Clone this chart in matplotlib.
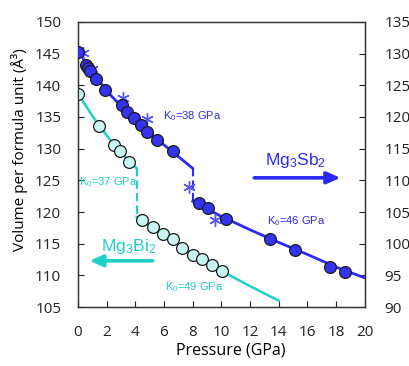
import matplotlib
matplotlib.use("Agg")
import matplotlib.pyplot as plt

# Mg3Sb2 (right axis, blue)
sb_P = [0.0, 0.56, 0.67, 0.84, 1.25, 1.9, 3.09, 3.39, 3.9, 4.41, 4.81, 5.5, 6.64,
        8.46, 9.08, 10.33, 13.4, 15.14, 17.56, 18.6]
sb_V = [130.3, 128.2, 127.8, 127.3, 126.05, 124.2, 121.85, 120.8, 119.8, 118.8, 117.6, 116.4, 114.7,
        106.5, 105.7, 103.9, 100.8, 99.0, 96.4, 95.6]
sb_star_P = [0.33, 1.0, 3.16, 4.85, 7.73, 9.55]
sb_star_V = [130.05, 127.5, 123.05, 119.7, 109.0, 103.7]
sb_fit1_P = [0, 2, 4, 6, 8]
sb_fit1_V = [130.4, 124.1, 119.4, 115.6, 111.9]
sb_jump_P = [8, 8]
sb_jump_V = [111.9, 106.6]
sb_fit2_P = [8, 10, 12, 14, 16, 18, 20]
sb_fit2_V = [106.7, 104.3, 102.2, 100.2, 98.3, 96.3, 94.6]

# Mg3Bi2 (left axis, cyan)
bi_P = [0.0, 1.49, 2.53, 2.95, 3.55, 4.46, 5.2, 5.9, 6.6, 7.27, 7.99, 8.65, 9.33, 10.03]
bi_V = [138.7, 133.6, 130.6, 129.7, 127.95, 118.7, 117.7, 116.6, 115.7, 114.3, 113.2, 112.6, 111.7, 110.7]
bi_fit1_P = [0, 1, 2, 3, 4.1]
bi_fit1_V = [138.7, 135.2, 132.1, 129.4, 126.9]
bi_jump_P = [4.1, 4.1]
bi_jump_V = [126.9, 119.2]
bi_fit2_P = [4.1, 6, 8, 10, 12, 14]
bi_fit2_V = [119.2, 116.4, 113.3, 110.7, 108.3, 106.0]

xticks = list(range(0, 21, 2))
lyticks = list(range(105, 151, 5))
ryticks = list(range(90, 136, 5))

BLUE = "#2b2bf5"
BLUE_M = "#3333f0"
STAR = "#5555ff"
CYAN = "#1fd0c8"
CYAN_M = "#c9f7f4"

tickfont = "Open Sans"
annfont = "Liberation Sans"
plt.rcParams["mathtext.fontset"] = "custom"
plt.rcParams["mathtext.rm"] = annfont
plt.rcParams["mathtext.it"] = annfont

fig = plt.figure(figsize=(4.1, 3.66), dpi=100)
ax = fig.add_axes([0.19, 0.161, 0.70, 0.779])
ax2 = ax.twinx()

# cyan Mg3Bi2 on left axis
ax.plot(bi_fit1_P, bi_fit1_V, color=CYAN, lw=1.8, zorder=2)
ax.plot(bi_jump_P, bi_jump_V, color=CYAN, lw=1.5, ls=(0, (4, 2)), zorder=2)
ax.plot(bi_fit2_P, bi_fit2_V, color=CYAN, lw=1.8, zorder=2)
ax.plot(bi_P, bi_V, ls="none", marker="o", ms=8.5, mfc=CYAN_M, mec="#1a1a1a", mew=0.9, zorder=3)

# blue Mg3Sb2 on right axis
ax2.plot(sb_fit1_P, sb_fit1_V, color=BLUE, lw=2.0, zorder=2)
ax2.plot(sb_jump_P, sb_jump_V, color=BLUE, lw=1.5, ls=(0, (4, 2)), zorder=2)
ax2.plot(sb_fit2_P, sb_fit2_V, color=BLUE, lw=2.0, zorder=2)
ax2.plot(sb_star_P, sb_star_V, ls="none", marker=(6, 2, 0), ms=9, mec=STAR, mew=1.0, zorder=3)
ax2.plot(sb_P, sb_V, ls="none", marker="o", ms=8.5, mfc=BLUE_M, mec="#1a1a1a", mew=0.9, zorder=4)

ax.set_xlim(0, 20)
ax.set_ylim(105, 150)
ax2.set_ylim(90, 135)
ax.set_xticks(xticks)
ax.set_yticks(lyticks)
ax2.set_yticks(ryticks)

for a in (ax, ax2):
    a.tick_params(direction="in", length=4, width=0.8, labelsize=11, colors="#222222")
    for lab in a.get_xticklabels() + a.get_yticklabels():
        lab.set_family(tickfont)
    for s in a.spines.values():
        s.set_linewidth(0.9)
        s.set_color("#333333")
ax.tick_params(axis="x", pad=13)
ax.tick_params(axis="y", pad=12)
ax2.tick_params(axis="y", pad=14)

ax.set_xlabel("Pressure (GPa)", fontsize=11.5, family=tickfont)
ax.set_ylabel("Volume per formula unit (Å³)", fontsize=11, family=tickfont)
ax.xaxis.set_label_coords((231 - 78) / 287, (307 - 342) / 285)
ax.yaxis.set_label_coords((28 - 78) / 287, (307 - 150) / 285)

# annotations
ax.text(5.9, 135.2, "K$_0$=38 GPa", color=BLUE, fontsize=8, family=annfont, va="center")
ax.text(0.05, 124.7, "K$_0$=37 GPa", color=CYAN, fontsize=8, family=annfont, va="center")
ax.text(6.1, 108.1, "K$_0$=49 GPa", color=CYAN, fontsize=8, family=annfont, va="center")
ax.text(13.2, 118.5, "K$_0$=46 GPa", color=BLUE, fontsize=8, family=annfont, va="center")

ax.text(15.2, 128.2, "Mg$_3$Sb$_2$", color=BLUE, fontsize=12.5, family=annfont, ha="center", va="center")
ax.annotate("", xy=(18.5, 125.4), xytext=(12.1, 125.4),
            arrowprops=dict(arrowstyle="-|>,head_length=0.8,head_width=0.35", color=BLUE, lw=2.6))
ax.text(3.5, 114.6, "Mg$_3$Bi$_2$", color=CYAN, fontsize=12.5, family=annfont, ha="center", va="center")
ax.annotate("", xy=(0.6, 112.3), xytext=(5.4, 112.3),
            arrowprops=dict(arrowstyle="-|>,head_length=0.8,head_width=0.35", color=CYAN, lw=2.6))

fig.savefig("out.png", dpi=100)
